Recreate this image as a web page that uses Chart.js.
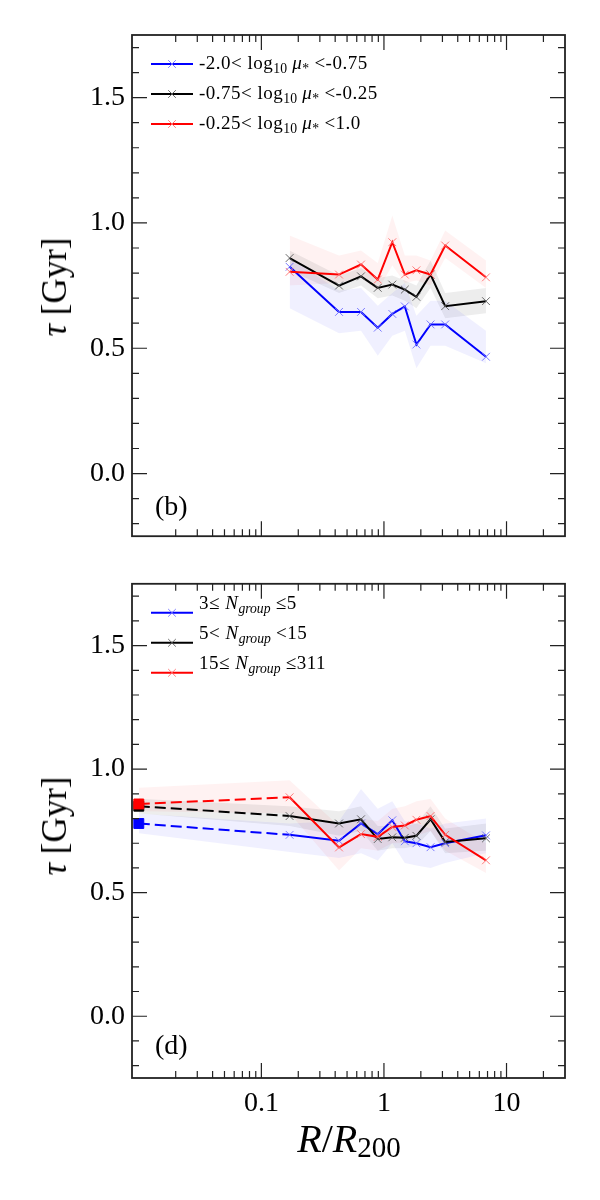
<!DOCTYPE html>
<html><head><meta charset="utf-8">
<script src="https://cdn.jsdelivr.net/npm/chart.js@4.4.1/dist/chart.umd.min.js"></script>
<style>
body{margin:0;background:#fff;}
#wrap{position:relative;width:600px;height:1200px;overflow:hidden;font-family:"Liberation Serif","DejaVu Serif",serif;color:#000;}
canvas{position:absolute;left:0;}
.t{position:absolute;white-space:nowrap;}
.leg{font-size:19px;line-height:20px;height:20px;letter-spacing:0.5px;}
.leg sub{font-size:72%;line-height:0;vertical-align:-0.32em;letter-spacing:0;}
.ax{font-size:35px;line-height:38px;}
.pl{font-size:28px;line-height:30px;}
</style></head><body>
<div id="wrap">
<canvas id="c1" width="600" height="560" style="top:0;width:600px;height:560px"></canvas>
<canvas id="c2" width="600" height="640" style="top:560px;width:600px;height:640px"></canvas>

<div class="t leg" style="left:199px;top:53px">-2.0&lt; log<sub>10</sub> <i>μ</i><sub>*</sub> &lt;-0.75</div>
<div class="t leg" style="left:199px;top:83px">-0.75&lt; log<sub>10</sub> <i>μ</i><sub>*</sub> &lt;-0.25</div>
<div class="t leg" style="left:199px;top:113px">-0.25&lt; log<sub>10</sub> <i>μ</i><sub>*</sub> &lt;1.0</div>

<div class="t leg" style="left:199px;top:593px">3≤ <i>N<sub>group</sub></i> ≤5</div>
<div class="t leg" style="left:199px;top:623px">5&lt; <i>N<sub>group</sub></i> &lt;15</div>
<div class="t leg" style="left:199px;top:653px">15≤ <i>N<sub>group</sub></i> ≤311</div>

<div class="t pl" style="left:155px;top:491px">(b)</div>
<div class="t pl" style="left:155px;top:1030px">(d)</div>

<div class="t ax" style="left:55px;top:287px;transform:translate(-50%,-50%) rotate(-90deg)"><i>τ</i>&nbsp;[Gyr]</div>
<div class="t ax" style="left:55px;top:826px;transform:translate(-50%,-50%) rotate(-90deg)"><i>τ</i>&nbsp;[Gyr]</div>
<div class="t" style="left:349px;top:1140px;transform:translate(-50%,-50%);font-size:40px;line-height:44px"><i>R</i>/<i>R</i><span style="font-size:29px;position:relative;top:5px">200</span></div>
</div>
<script>
// ---- axis ticks ----
const X_MIN = 0.0088, X_MAX = 30;
const Y_MIN = -0.25, Y_MAX = 1.75;
const xLabelTicks = [0.1, 1, 10];
const xMinorTicks = [0.02,0.03,0.04,0.05,0.06,0.07,0.08,0.09,0.2,0.3,0.4,0.5,0.6,0.7,0.8,0.9,2,3,4,5,6,7,8,9,20];
const yLabelTicks = [0, 0.5, 1.0, 1.5];
const yMinorTicks = [-0.2,-0.1,0.1,0.2,0.3,0.4,0.6,0.7,0.8,0.9,1.1,1.2,1.3,1.4,1.6,1.7];

// ---- panel (b): stellar-mass-ratio bins ----
const xTop = [0.17, 0.43, 0.65, 0.89, 1.17, 1.48, 1.84, 2.4, 3.16, 6.8];
const topBlue   = [0.825,0.645,0.645,0.582,0.637,0.667,0.515,0.595,0.595,0.466];
const topBlueHi = [0.86, 0.73, 0.74, 0.67, 0.72, 0.76, 0.63, 0.69, 0.69, 0.57];
const topBlueLo = [0.66, 0.56, 0.57, 0.47, 0.55, 0.57, 0.42, 0.51, 0.51, 0.44];
const topBlack   = [0.86,0.75,0.787,0.741,0.754,0.734,0.705,0.794,0.668,0.688];
const topBlackHi = [0.89,0.79,0.82, 0.78, 0.79, 0.77, 0.75, 0.85, 0.72, 0.74];
const topBlackLo = [0.81,0.72,0.75, 0.70, 0.71, 0.69, 0.66, 0.74, 0.62, 0.64];
const topRed   = [0.805,0.794,0.834,0.774,0.923,0.794,0.811,0.794,0.91,0.783];
const topRedHi = [0.95, 0.87, 0.89, 0.84, 1.03, 0.87, 0.87, 0.85, 0.97, 0.85];
const topRedLo = [0.75, 0.76, 0.78, 0.73, 0.83, 0.76, 0.77, 0.75, 0.86, 0.74];

// ---- panel (d): group-richness bins ----
const xBot = [0.01, 0.17, 0.43, 0.65, 0.89, 1.17, 1.48, 1.84, 2.4, 3.16, 6.8];
const botBlue   = [0.78, 0.734,0.71, 0.78, 0.737,0.793,0.708,0.70, 0.684,0.70, 0.732];
const botBlueHi = [0.82, 0.78, 0.79, 0.92, 0.84, 0.87, 0.79, 0.78, 0.76, 0.78, 0.80];
const botBlueLo = [0.74, 0.665,0.64, 0.66, 0.63, 0.70, 0.62, 0.61, 0.60, 0.62, 0.66];
const botBlack   = [0.85, 0.81, 0.78, 0.797,0.717,0.724,0.722,0.73, 0.797,0.705,0.72];
const botBlackHi = [0.88, 0.85, 0.83, 0.85, 0.77, 0.77, 0.77, 0.78, 0.85, 0.76, 0.78];
const botBlackLo = [0.82, 0.77, 0.73, 0.75, 0.67, 0.68, 0.68, 0.69, 0.75, 0.66, 0.67];
const botRed   = [0.859,0.886,0.683,0.737,0.726,0.766,0.772,0.795,0.81, 0.734,0.631];
const botRedHi = [0.925,0.955,0.77, 0.80, 0.79, 0.84, 0.85, 0.87, 0.88, 0.80, 0.70];
const botRedLo = [0.83, 0.82, 0.59, 0.68, 0.67, 0.70, 0.70, 0.73, 0.75, 0.67, 0.58];

const FONT = '"Liberation Serif","DejaVu Serif",serif';
const pts = (xs, ys) => xs.map((x, i) => ({x, y: ys[i]}));

function band(xs, hi, lo, color) {
  return [
    {data: pts(xs, hi), borderWidth: 0, pointRadius: 0, fill: '+1', backgroundColor: color, order: 10},
    {data: pts(xs, lo), borderWidth: 0, pointRadius: 0, fill: false, order: 10}
  ];
}
function line(xs, ys, color, markColor, order, withSquare) {
  const ds = {
    data: pts(xs, ys), borderColor: color, borderWidth: 2, fill: false, order,
    pointStyle: 'crossRot', pointRadius: 5.5, pointBorderWidth: 1,
    pointBorderColor: markColor, pointBackgroundColor: markColor
  };
  if (withSquare) {
    ds.pointStyle = xs.map((_, i) => i === 0 ? 'rect' : 'crossRot');
    ds.pointRadius = xs.map((_, i) => i === 0 ? 7 : 5.5);
    ds.pointBorderColor = xs.map((_, i) => i === 0 ? color : markColor);
    ds.pointBackgroundColor = xs.map((_, i) => i === 0 ? color : markColor);
    ds.segment = {borderDash: c => c.p0DataIndex === 0 ? [11, 5] : undefined};
  }
  return ds;
}

const framePlugin = {
  id: 'frame',
  afterDraw(chart, args, o) {
    const {ctx, chartArea: a, scales: {x, y}} = chart;
    ctx.save();
    ctx.strokeStyle = '#222';
    ctx.lineWidth = 1.2;
    ctx.beginPath();
    const MAJ = 15, MIN = 7;
    const xt = (v, L) => { const p = x.getPixelForValue(v); ctx.moveTo(p, a.bottom); ctx.lineTo(p, a.bottom - L); ctx.moveTo(p, a.top); ctx.lineTo(p, a.top + L); };
    const yt = (v, L) => { const p = y.getPixelForValue(v); ctx.moveTo(a.left, p); ctx.lineTo(a.left + L, p); ctx.moveTo(a.right, p); ctx.lineTo(a.right - L, p); };
    xLabelTicks.forEach(v => xt(v, MAJ));
    xMinorTicks.forEach(v => xt(v, MIN));
    yLabelTicks.forEach(v => yt(v, MAJ));
    yMinorTicks.forEach(v => yt(v, MIN));
    ctx.stroke();
    ctx.lineWidth = 1.8;
    ctx.strokeRect(a.left, a.top, a.right - a.left, a.bottom - a.top);
    // legend samples
    (o.items || []).forEach((it, i) => {
      const yy = a.top + 29 + i * 30, x0 = a.left + 19, x1 = a.left + 61, xm = (x0 + x1) / 2;
      ctx.strokeStyle = it.color; ctx.lineWidth = 2;
      ctx.beginPath(); ctx.moveTo(x0, yy); ctx.lineTo(x1, yy); ctx.stroke();
      ctx.strokeStyle = it.mark; ctx.lineWidth = 1;
      ctx.beginPath(); ctx.moveTo(xm - 3.8, yy - 3.8); ctx.lineTo(xm + 3.8, yy + 3.8);
      ctx.moveTo(xm - 3.8, yy + 3.8); ctx.lineTo(xm + 3.8, yy - 3.8); ctx.stroke();
    });
    ctx.restore();
  }
};

const BLUE = '#0000ff', BLACK = '#000000', RED = '#ff0000';
const mBLUE = 'rgba(110,110,255,0.9)', mBLACK = 'rgba(90,90,90,0.9)', mRED = 'rgba(255,110,110,0.9)';
const bBLUE = 'rgba(0,0,255,0.06)', bBLACK = 'rgba(0,0,0,0.07)', bRED = 'rgba(255,0,0,0.05)';

function make(id, xs, sets, showX, padTop, xH, legendItems) {
  return new Chart(document.getElementById(id), {
    type: 'line',
    data: {datasets: sets},
    options: {
      responsive: false, animation: false, parsing: true,
      layout: {padding: {top: padTop, right: 35, left: 0, bottom: 0}},
      plugins: {legend: {display: false}, tooltip: {enabled: false}, frame: {items: legendItems}},
      scales: {
        x: {
          type: 'logarithmic', min: X_MIN, max: X_MAX,
          grid: {display: false, drawTicks: false}, border: {display: false},
          ticks: {display: showX, font: {family: FONT, size: 28}, color: '#000', padding: 9, maxRotation: 0, autoSkip: false, callback: v => String(v)},
          afterBuildTicks: s => { s.ticks = xLabelTicks.map(v => ({value: v})); },
          afterFit: s => { s.height = xH; }
        },
        y: {
          type: 'linear', min: Y_MIN, max: Y_MAX,
          grid: {display: false, drawTicks: false}, border: {display: false},
          ticks: {font: {family: FONT, size: 28}, color: '#000', padding: 7, callback: v => Number(v).toFixed(1)},
          afterBuildTicks: s => { s.ticks = yLabelTicks.map(v => ({value: v})); },
          afterFit: s => { s.width = 132; }
        }
      }
    },
    plugins: [framePlugin]
  });
}

make('c1', xTop, [
  line(xTop, topRed, RED, mRED, 0),
  line(xTop, topBlack, BLACK, mBLACK, 1),
  line(xTop, topBlue, BLUE, mBLUE, 2),
  ...band(xTop, topBlueHi, topBlueLo, bBLUE),
  ...band(xTop, topBlackHi, topBlackLo, bBLACK),
  ...band(xTop, topRedHi, topRedLo, bRED)
], false, 35, 22, [
  {color: BLUE, mark: mBLUE}, {color: BLACK, mark: mBLACK}, {color: RED, mark: mRED}
]);

make('c2', xBot, [
  line(xBot, botRed, RED, mRED, 0, true),
  line(xBot, botBlack, BLACK, mBLACK, 1, true),
  line(xBot, botBlue, BLUE, mBLUE, 2, true),
  ...band(xBot, botBlueHi, botBlueLo, bBLUE),
  ...band(xBot, botBlackHi, botBlackLo, bBLACK),
  ...band(xBot, botRedHi, botRedLo, bRED)
], true, 15, 122, [
  {color: BLUE, mark: mBLUE}, {color: BLACK, mark: mBLACK}, {color: RED, mark: mRED}
]);
</script>
</body></html>
